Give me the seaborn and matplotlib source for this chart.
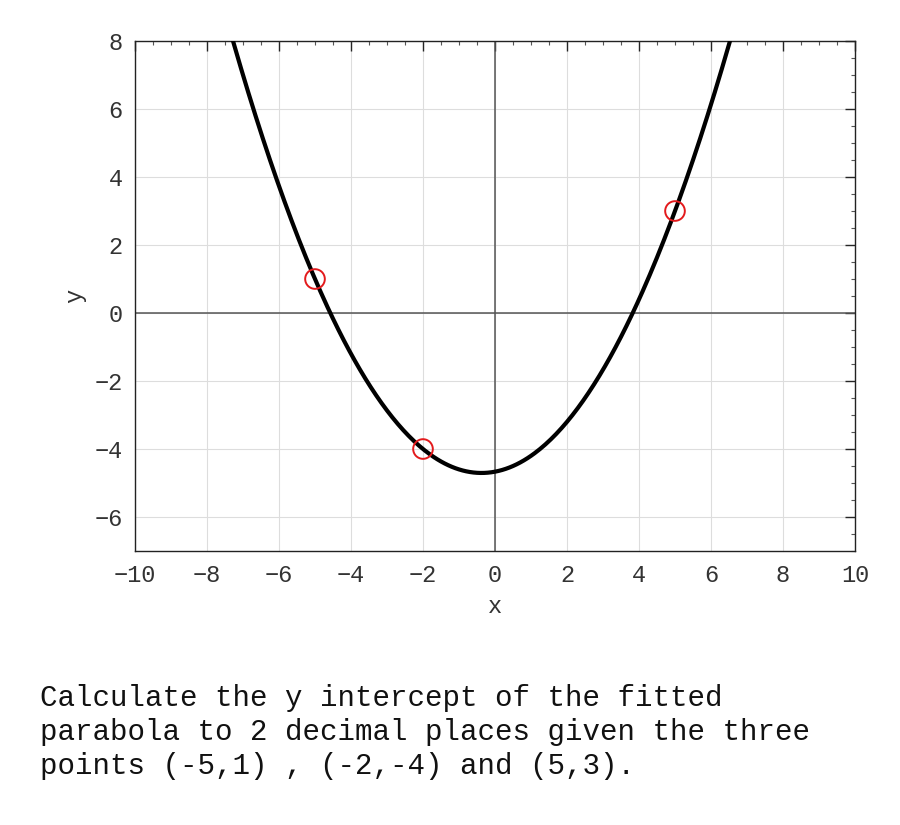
import numpy as np
import matplotlib
matplotlib.use("Agg")
import matplotlib.pyplot as plt
import pandas as pd
import seaborn as sns
from matplotlib.ticker import MultipleLocator

sns.set_style("white")
plt.rcParams['font.family'] = ['Liberation Mono', 'DejaVu Sans']

# the three given points
px = [-5, -2, 5]
py = [1, -4, 3]

# fitted parabola through the points
coef = np.polyfit(px, py, 2)
xs = np.linspace(-10, 10, 401)
curve = pd.DataFrame({'x': xs, 'y': np.polyval(coef, xs)})
pts = pd.DataFrame({'x': px, 'y': py})

fig = plt.figure(figsize=(9, 8.25), dpi=100)
ax = fig.add_axes([0.15, 0.3321, 0.80, 0.6182])

ax.grid(True, color='#dddddd', linewidth=0.8)
ax.axhline(0, color='#555555', linewidth=1.1, zorder=1)
ax.axvline(0, color='#555555', linewidth=1.1, zorder=1)

sns.lineplot(data=curve, x='x', y='y', color='black', linewidth=3, ax=ax, zorder=3)
sns.scatterplot(data=pts, x='x', y='y', marker='o', s=200, facecolor='none',
                edgecolor='#e31a1c', linewidth=1.4, ax=ax, zorder=4)

ax.set_xlim(-10, 10)
ax.set_ylim(-7, 8)
ax.xaxis.set_major_locator(MultipleLocator(2))
ax.yaxis.set_major_locator(MultipleLocator(2))
ax.xaxis.set_minor_locator(MultipleLocator(0.5))
ax.yaxis.set_minor_locator(MultipleLocator(0.5))
ax.tick_params(which='major', direction='in', length=7, width=1, top=True, right=True,
               labelsize=17, labelcolor='#333333', pad=9)
ax.tick_params(which='minor', direction='in', length=3, width=0.8, top=True, right=True,
               color='#555555')
for s in ax.spines.values():
    s.set_linewidth(1.0)
    s.set_color('#222222')

ax.set_xlabel('x', fontsize=17, color='#333333', labelpad=6)
ax.set_ylabel('y', fontsize=17, color='#333333', labelpad=6)

fig.text(40 / 900, 1 - 684 / 825,
         'Calculate the y intercept of the fitted\n'
         'parabola to 2 decimal places given the three\n'
         'points (-5,1) , (-2,-4) and (5,3).',
         fontsize=21, va='top', ha='left', color='#111111', linespacing=1.28)

fig.savefig('out.png', dpi=100)
